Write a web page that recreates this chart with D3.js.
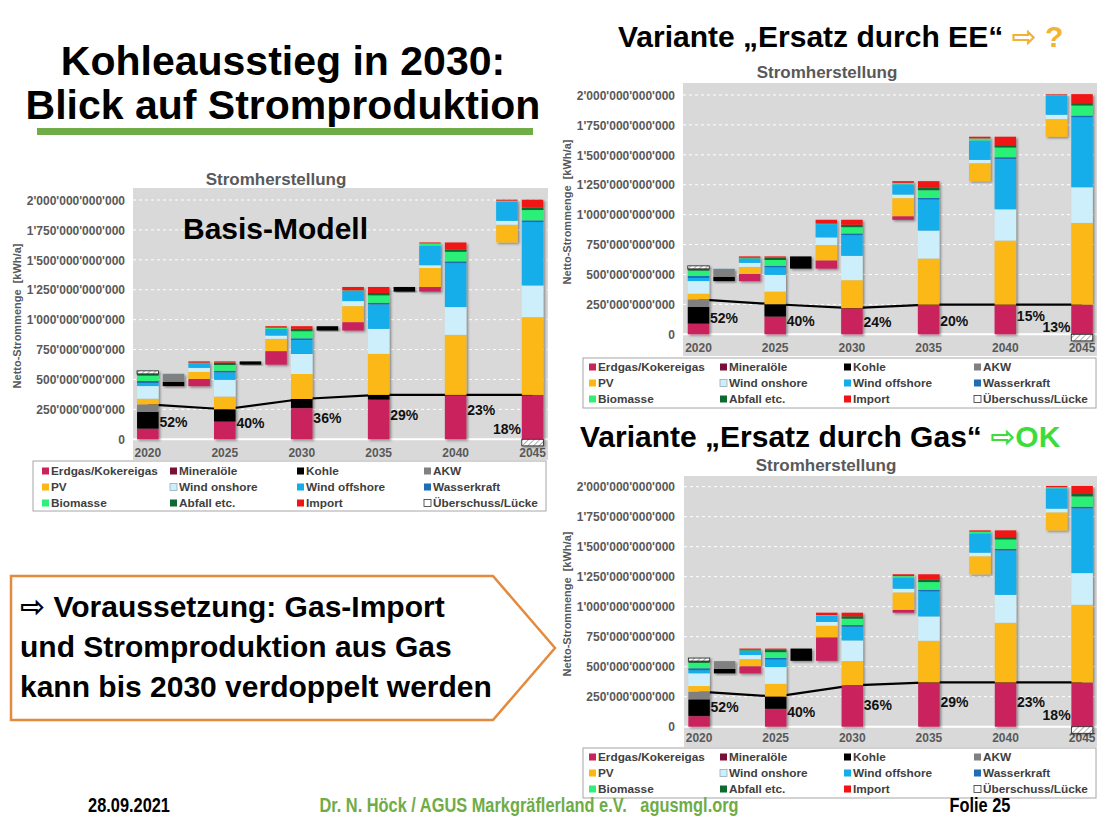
<!DOCTYPE html>
<html><head><meta charset="utf-8">
<script src="https://cdn.jsdelivr.net/npm/d3@7"></script>
<style>
body{margin:0;background:#fff}
svg{display:block}
text{font-family:"Liberation Sans",Arial,"DejaVu Sans",sans-serif}
</style>
</head><body>
<svg id="c" width="1100" height="825"></svg>
<script>
// ---------------- DATA ----------------
const years = [2020, 2025, 2030, 2035, 2040, 2045];
const categories = ["Erdgas/Kokereigas","Mineralöle","Kohle","AKW","PV","Wind onshore",
  "Wind offshore","Wasserkraft","Biomasse","Abfall etc.","Import","Überschuss/Lücke"];
const colors = ["#c9225c","#7a1038","#000000","#808080","#fbb814","#cdeffb",
  "#12aeea","#1f6db4","#2cf078","#0e6a2e","#f01414","#ffffff"];

// Net production per category and year, in TWh (= 1e9 kWh), rows follow `categories`
const basisValues = [
  [86, 146, 259, 329, 368, 368],   // Erdgas
  [4, 3, 3, 3, 3, 3],              // Mineralöle
  [138, 102, 75, 39, 0, 0],        // Kohle
  [64, 0, 0, 0, 0, 0],             // AKW
  [47, 106, 209, 343, 502, 650],   // PV
  [106, 140, 167, 209, 232, 265],  // Wind onshore
  [26, 62, 117, 204, 368, 530],    // Wind offshore
  [16, 14, 14, 14, 14, 14],        // Wasserkraft
  [45, 48, 59, 62, 80, 86],        // Biomasse
  [15, 20, 20, 20, 20, 20],        // Abfall
  [0, 10, 22, 50, 58, 67],         // Import
  [25, 0, 0, 0, 0, -55]            // Überschuss/Lücke
];
const eeValues = [
  [86, 146, 215, 245, 245, 245],
  [4, 3, 3, 3, 3, 3],
  [138, 102, 0, 0, 0, 0],
  [64, 0, 0, 0, 0, 0],
  [47, 106, 234, 385, 535, 683],
  [106, 140, 204, 234, 262, 298],
  [26, 62, 173, 259, 421, 585],
  [16, 14, 14, 14, 14, 14],
  [45, 48, 52, 64, 81, 84],
  [15, 20, 20, 20, 20, 20],
  [0, 10, 42, 56, 70, 75],
  [25, 0, 0, 0, 0, -55]
];
const gasValues = [
  [86, 146, 342, 366, 366, 366],
  [4, 3, 3, 3, 3, 3],
  [138, 102, 0, 0, 0, 0],
  [64, 0, 0, 0, 0, 0],
  [47, 106, 202, 347, 497, 647],
  [106, 140, 172, 203, 233, 264],
  [26, 62, 114, 208, 369, 539],
  [16, 14, 14, 14, 14, 14],
  [45, 48, 53, 64, 78, 86],
  [15, 20, 20, 20, 20, 20],
  [0, 10, 30, 45, 56, 67],
  [25, 0, 0, 0, 0, -55]
];
const basisPct = ["52%","40%","36%","29%","23%","18%"];
const eePct    = ["52%","40%","24%","20%","15%","13%"];
const gasPct   = ["52%","40%","36%","29%","23%","18%"];
const yTicks = [0, 250, 500, 750, 1000, 1250, 1500, 1750, 2000];

// ---------------- LAYOUT ----------------
const charts = [
  { values: basisValues, pct: basisPct, pctAt: [147,139,179,204,246,86],
    xRange: [135, 545.4], y0: 439.3, yTop: 200, bg: [133, 188, 415, 272],
    tickX: 125, yTitle: [17, 316], title: [276, 185], xLabelY: 457,
    legend: { box: [33, 461, 513, 50], cols: [42, 170, 297, 424], rows: [471, 487, 503] } },
  { values: eeValues, pct: eePct, pctAt: [139,114,106,111,155,64],
    xRange: [685.7, 1094.8], y0: 334.3, yTop: 95, bg: [683, 83, 414, 273],
    tickX: 675, yTitle: [567, 212], title: [827, 78], xLabelY: 352,
    legend: { box: [583, 358, 513, 50], cols: [589, 720, 844, 974], rows: [367, 383, 399] } },
  { values: gasValues, pct: gasPct, pctAt: [162,125,181,209,209,98],
    xRange: [686.3, 1094.9], y0: 726.7, yTop: 486.7, bg: [684, 476, 413, 271],
    tickX: 675, yTitle: [567, 604], title: [826, 471], xLabelY: 742,
    legend: { box: [583, 748, 513, 50], cols: [589, 720, 844, 974], rows: [757, 773, 789] } }
];

const svg = d3.select("#c");
const defs = svg.append("defs");
const pat = defs.append("pattern").attr("id","hatch").attr("width",4).attr("height",4)
  .attr("patternUnits","userSpaceOnUse").attr("patternTransform","rotate(45)");
pat.append("rect").attr("width",4).attr("height",4).attr("fill","#fff");
pat.append("line").attr("x1",0).attr("y1",0).attr("x2",0).attr("y2",4)
  .attr("stroke","#9a9a9a").attr("stroke-width",1.6);
const flt = defs.append("filter").attr("id","sh").attr("x","-30%").attr("y","-10%")
  .attr("width","170%").attr("height","130%");
flt.append("feDropShadow").attr("dx",1.6).attr("dy",1.4).attr("stdDeviation",0.8)
  .attr("flood-color","#000").attr("flood-opacity",0.4);

const fmt = v => v === 0 ? "0" : d3.format(",.0f")(v * 1e9).replace(/,/g, "'");

function drawChart(cfg) {
  const vals = cfg.values;
  const g = svg.append("g");
  const slots = [];
  years.forEach((yr, i) => { if (i > 0) { slots.push("d" + i); slots.push("u" + i); } slots.push("y" + i); });
  const x = d3.scaleBand().domain(slots).range(cfg.xRange).paddingInner(0.16).paddingOuter(0.08);
  const y = d3.scaleLinear().domain([0, 2000]).range([cfg.y0, cfg.yTop]);
  const bw = x.bandwidth();

  // background
  g.append("rect").attr("x", cfg.bg[0]).attr("y", cfg.bg[1]).attr("width", cfg.bg[2])
    .attr("height", cfg.bg[3]).attr("fill", "#d9d9d9");
  // grid
  g.selectAll(".grid").data(yTicks.filter(t => t > 0)).join("line")
    .attr("x1", cfg.bg[0]).attr("x2", cfg.bg[0] + cfg.bg[2])
    .attr("y1", d => y(d)).attr("y2", d => y(d))
    .attr("stroke", "#fff").attr("stroke-width", 1).attr("stroke-dasharray", "3,3");
  g.append("line").attr("x1", cfg.bg[0]).attr("x2", cfg.bg[0] + cfg.bg[2])
    .attr("y1", y(0)).attr("y2", y(0)).attr("stroke", "#fff").attr("stroke-width", 2);

  // y axis labels
  const ya = g.append("g").attr("transform", `translate(${cfg.tickX},0)`)
    .call(d3.axisLeft(y).tickValues(yTicks).tickSize(0).tickPadding(0).tickFormat(fmt));
  ya.select(".domain").remove();
  ya.selectAll("text").attr("font-family", '"Liberation Sans",Arial,sans-serif')
    .attr("font-size", 12).attr("font-weight", "bold").attr("fill", "#595959").attr("dy", "0.35em");

  // x axis labels
  const yearSlots = years.map((yr, i) => "y" + i);
  const xa = g.append("g").attr("transform", `translate(0,${cfg.xLabelY})`)
    .call(d3.axisBottom(x).tickValues(yearSlots).tickSize(0).tickPadding(0)
      .tickFormat(s => years[+s.slice(1)]));
  xa.select(".domain").remove();
  xa.selectAll("text").attr("font-family", '"Liberation Sans",Arial,sans-serif')
    .attr("font-size", 12).attr("font-weight", "bold").attr("fill", "#595959").attr("dy", 0);

  // y title
  g.append("text").attr("transform", `translate(${cfg.yTitle[0]},${cfg.yTitle[1]}) rotate(-90)`)
    .attr("text-anchor", "middle").attr("dy", "0.35em").attr("font-size", 11)
    .attr("font-weight", "bold").attr("fill", "#595959").attr("xml:space", "preserve")
    .text("Netto-Strommenge  [kWh/a]");
  // chart title
  g.append("text").attr("x", cfg.title[0]).attr("y", cfg.title[1]).attr("text-anchor", "middle")
    .attr("font-size", 17).attr("font-weight", "bold").attr("fill", "#595959").text("Stromherstellung");

  // segments
  const segs = [];
  const total = i => d3.sum(vals.slice(0, 11), r => r[i]);
  years.forEach((yr, i) => {
    let acc = 0;
    for (let c = 0; c < 11; c++) {
      const v = vals[c][i];
      if (v > 0) { segs.push({ slot: "y" + i, c, a: acc, b: acc + v }); acc += v; }
    }
    const u = vals[11][i];
    if (u > 0) segs.push({ slot: "y" + i, c: 11, a: acc, b: acc + u });
    else if (u < 0) segs.push({ slot: "y" + i, c: 11, a: u, b: 0 });
    if (i > 0) {
      const d = vals.slice(0, 11).map(r => r[i] - r[i - 1]);
      const dec = d3.sum(d.filter(v => v < 0), v => -v);
      const base = total(i - 1) - dec;
      let a1 = base, a2 = base;
      d.forEach((v, c) => {
        if (v < 0) { segs.push({ slot: "d" + i, c, a: a1, b: a1 - v }); a1 -= v; }
        if (v > 0) { segs.push({ slot: "u" + i, c, a: a2, b: a2 + v }); a2 += v; }
      });
    }
  });

  // line (non-renewable part)
  const nonRen = years.map((yr, i) => vals[0][i] + vals[1][i] + vals[2][i] + vals[3][i]);
  g.append("path").datum(years.map((yr, i) => [x("y" + i) + bw / 2, y(nonRen[i])]))
    .attr("d", d3.line()).attr("fill", "none").attr("stroke", "#000").attr("stroke-width", 2.2);

  const groups = d3.groups(segs, s => s.slot);
  groups.forEach(([slot, list]) => {
    const bg = g.append("g").attr("filter", "url(#sh)");
    bg.selectAll("rect").data(list).join("rect")
      .attr("x", x(slot)).attr("width", bw)
      .attr("y", s => y(Math.max(s.a, s.b))).attr("height", s => Math.abs(y(s.a) - y(s.b)))
      .attr("fill", s => s.c === 11 ? "url(#hatch)" : colors[s.c])
      .attr("stroke", s => s.c === 11 ? "#222" : "none").attr("stroke-width", 0.8);
  });

  // percentage labels
  const pctSlots = ["d1", "d2", "d3", "d4", "d5", "u5"];
  cfg.pct.forEach((p, i) => {
    g.append("text").attr("x", x(pctSlots[i]) + bw / 2).attr("y", y(cfg.pctAt[i]))
      .attr("dy", "0.35em").attr("text-anchor", "middle").attr("font-size", 14)
      .attr("font-weight", "bold").attr("fill", "#111").text(p);
  });

  // legend
  const L = cfg.legend;
  g.append("rect").attr("x", L.box[0]).attr("y", L.box[1]).attr("width", L.box[2]).attr("height", L.box[3])
    .attr("fill", "#fff").attr("stroke", "#a6a6a6").attr("stroke-width", 1);
  categories.forEach((cat, k) => {
    const cx = L.cols[k % 4], cy = L.rows[Math.floor(k / 4)];
    g.append("rect").attr("x", cx).attr("y", cy - 3.5).attr("width", 7).attr("height", 7)
      .attr("fill", colors[k]).attr("stroke", k === 11 ? "#333" : (k === 5 ? "#9ab" : "none"))
      .attr("stroke-width", 0.8);
    g.append("text").attr("x", cx + 9).attr("y", cy).attr("dy", "0.36em").attr("font-size", 11.8)
      .attr("font-weight", "bold").attr("fill", "#404040").text(cat);
  });
}
charts.forEach(drawChart);

// ---------------- SLIDE TEXT ----------------
svg.append("text").attr("x", 283).attr("y", 75).attr("text-anchor", "middle").attr("font-size", 41)
  .attr("font-weight", "bold").attr("fill", "#000").text("Kohleausstieg in 2030:");
svg.append("text").attr("x", 283).attr("y", 119).attr("text-anchor", "middle").attr("font-size", 41)
  .attr("font-weight", "bold").attr("fill", "#000").text("Blick auf Stromproduktion");
svg.append("rect").attr("x", 37).attr("y", 128).attr("width", 496).attr("height", 7).attr("fill", "#70ad47");

svg.append("text").attr("x", 183).attr("y", 239).attr("font-size", 30).attr("font-weight", "bold")
  .attr("fill", "#000").text("Basis-Modell");

const h1 = svg.append("text").attr("x", 618).attr("y", 47).attr("font-size", 30).attr("font-weight", "bold")
  .attr("xml:space", "preserve");
h1.append("tspan").attr("fill", "#000").text("Variante „Ersatz durch EE“ ");
h1.append("tspan").attr("fill", "#f2b233").text("⇨ ?");

const h2 = svg.append("text").attr("x", 580).attr("y", 447).attr("font-size", 30).attr("font-weight", "bold")
  .attr("xml:space", "preserve");
h2.append("tspan").attr("fill", "#000").text("Variante „Ersatz durch Gas“ ");
h2.append("tspan").attr("fill", "#3ddc3d").text("⇨OK");

svg.append("path").attr("d", "M11,576 L493,576 L555,648 L493,720 L11,720 Z")
  .attr("fill", "#fff").attr("stroke", "#e48a3c").attr("stroke-width", 2.5);
["⇨ Voraussetzung: Gas-Import", "und Stromproduktion aus Gas", "kann bis 2030 verdoppelt werden"]
  .forEach((t, i) => svg.append("text").attr("x", 20).attr("y", 617 + i * 40).attr("font-size", 30)
    .attr("font-weight", "bold").attr("fill", "#000").text(t));

function footer(t, cx, col) {
  svg.append("g").attr("transform", `translate(${cx},812) scale(0.84,1)`)
    .append("text").attr("text-anchor", "middle").attr("font-size", 19.5).attr("font-weight", "bold")
    .attr("fill", col).attr("xml:space", "preserve").text(t);
}
footer("28.09.2021", 129, "#000");
footer("Dr. N. Höck / AGUS Markgräflerland e.V.   agusmgl.org", 529, "#6fac46");
footer("Folie 25", 980, "#000");
</script>
</body></html>
